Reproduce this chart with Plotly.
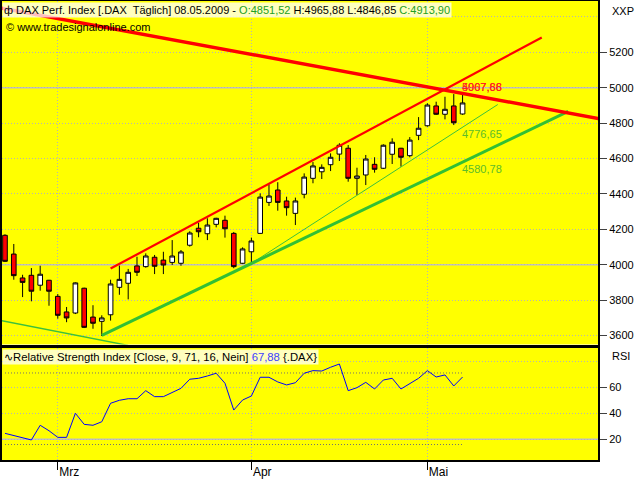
import plotly.graph_objects as go

# ---------------- data ----------------
dates = [
    "2009-02-20", "2009-02-23", "2009-02-24", "2009-02-25", "2009-02-26", "2009-02-27",
    "2009-03-02", "2009-03-03", "2009-03-04", "2009-03-05", "2009-03-06",
    "2009-03-09", "2009-03-10", "2009-03-11", "2009-03-12", "2009-03-13",
    "2009-03-16", "2009-03-17", "2009-03-18", "2009-03-19", "2009-03-20",
    "2009-03-23", "2009-03-24", "2009-03-25", "2009-03-26", "2009-03-27",
    "2009-03-30", "2009-03-31",
    "2009-04-01", "2009-04-02", "2009-04-03",
    "2009-04-06", "2009-04-07", "2009-04-08", "2009-04-09",
    "2009-04-14", "2009-04-15", "2009-04-16", "2009-04-17",
    "2009-04-20", "2009-04-21", "2009-04-22", "2009-04-23", "2009-04-24",
    "2009-04-27", "2009-04-28", "2009-04-29", "2009-04-30",
    "2009-05-04", "2009-05-05", "2009-05-06", "2009-05-07", "2009-05-08",
]
opens = [4166, 4060, 3925, 3940, 3884, 3912, 3821, 3733, 3727, 3867, 3704,
         3680, 3717, 3872, 3895, 3993, 3989, 4042, 4026, 4013, 4008,
         4110, 4206, 4175, 4228, 4251, 4177, 4008,
         4073, 4177, 4352, 4422, 4360, 4290, 4398,
         4488, 4525, 4565, 4625, 4658, 4488, 4507, 4567, 4545,
         4624, 4658, 4616, 4731, 4785, 4897, 4850, 4897, 4851.52]
highs = [4172, 4117, 3943, 3981, 3994, 3914, 3834, 3761, 3900, 3870, 3771,
         3714, 3915, 3995, 3976, 4045, 4064, 4055, 4073, 4139, 4083,
         4189, 4237, 4262, 4265, 4277, 4185, 4098,
         4153, 4403, 4454, 4466, 4384, 4379, 4516,
         4580, 4567, 4629, 4686, 4676, 4548, 4620, 4607, 4680,
         4714, 4660, 4721, 4834, 4912, 4921, 4949, 4964, 4965.88]
lows = [4015, 3915, 3817, 3793, 3853, 3768, 3695, 3675, 3721, 3642, 3638,
        3597, 3684, 3830, 3804, 3936, 3983, 3947, 3947, 3998, 3994,
        4102, 4155, 4139, 4211, 4153, 3980, 4005,
        4011, 4175, 4332, 4305, 4277, 4224, 4375,
        4460, 4484, 4529, 4586, 4469, 4394, 4450, 4520, 4541,
        4569, 4554, 4607, 4704, 4780, 4846, 4821, 4789, 4846.85]
closes = [4019, 3938, 3900, 3850, 3946, 3850, 3714, 3699, 3897, 3646, 3669,
          3699, 3891, 3917, 3957, 3957, 4049, 3991, 3998, 4049, 4072,
          4179, 4186, 4224, 4262, 4203, 3989, 4089,
          4134, 4382, 4388, 4352, 4322, 4360, 4495,
          4558, 4550, 4607, 4675, 4488, 4501, 4597, 4539, 4675,
          4692, 4607, 4704, 4771, 4902, 4850, 4878, 4802, 4913.90]
rsi = [24.6, 22.8, 21.2, 19.5, 30.8, 26.6, 21.5, 21.5, 40.0, 31.5, 30.8,
       33.5, 47.7, 50.0, 51.2, 51.2, 57.4, 52.8, 52.8, 55.8, 59.2,
       66.2, 66.9, 68.7, 70.8, 63.1, 42.5, 50.2,
       53.3, 67.7, 67.7, 64.1, 61.8, 63.5, 70.8,
       72.8, 72.5, 75.4, 77.9, 57.4, 59.7, 63.8, 58.7, 65.6,
       66.9, 58.7, 63.1, 66.9, 72.8, 67.9, 69.5, 61.0, 67.88]
rsi_upper = 71
rsi_lower = 16

# trend lines: (bar index, value) end points
red_down_x, red_down_y = [-1, 68], [5455.5, 4820.7]
red_up_x, red_up_y = [12, 61], [3978, 5284]
green_thick_x, green_thick_y = [11, 64], [3601, 4866]
green_thin_x, green_thin_y = [28, 56], [4007, 4905]
green_low_x, green_low_y = [-1, 14], [3689, 3544]

red_labels = ["5007,66", "4967,88"]
green_labels = [("4776,65", 4776.65), ("4580,78", 4580.78)]

month_names = {"03": "Mrz", "04": "Apr", "05": "Mai"}
price_ticks = [3600, 3800, 4000, 4200, 4400, 4600, 4800, 5000, 5200]
rsi_ticks = [20, 40, 60]

header = ("ф DAX Perf. Index [.DAX  Täglich] 08.05.2009 - "
          "<span style='color:#22a022'>O:4851,52</span> H:4965,88 L:4846,85 "
          "<span style='color:#22a022'>C:4913,90</span>")
rsi_header = ("∿Relative Strength Index [Close, 9, 71, 16, Nein] "
              "<span style='color:#4040ff'>67,88</span> {.DAX}")

# ---------------- figure ----------------
idx = list(range(len(dates)))
month_ticks = [i for i in idx if i > 0 and dates[i][5:7] != dates[i - 1][5:7]]
month_text = [month_names[dates[i][5:7]] for i in month_ticks]

W, H = 640, 480
L, R, T, B = 2, 42, 1, 20
PW, PH = W - L - R, H - T - B


def px(x):
    return (x - L) / PW


def py(y):
    return (H - B - y) / PH


FONT = "Liberation Sans, Arial, sans-serif"
GRID = "#b4b4b4"
DOT = "1px,2px"

fig = go.Figure()

fig.add_trace(go.Candlestick(
    x=idx, open=opens, high=highs, low=lows, close=closes,
    increasing=dict(fillcolor="#ffffff", line=dict(color="#000000", width=1)),
    decreasing=dict(fillcolor="#ff0000", line=dict(color="#000000", width=1)),
    whiskerwidth=0, xaxis="x", yaxis="y", showlegend=False, hoverinfo="skip"))

fig.add_trace(go.Scatter(x=green_low_x, y=green_low_y, mode="lines",
                         line=dict(color="#3cc03c", width=1.5), xaxis="x", yaxis="y", showlegend=False))
fig.add_trace(go.Scatter(x=green_thin_x, y=green_thin_y, mode="lines",
                         line=dict(color="#3cc03c", width=1), xaxis="x", yaxis="y", showlegend=False))
fig.add_trace(go.Scatter(x=green_thick_x, y=green_thick_y, mode="lines",
                         line=dict(color="#33c033", width=3), xaxis="x", yaxis="y", showlegend=False))
fig.add_trace(go.Scatter(x=red_up_x, y=red_up_y, mode="lines",
                         line=dict(color="#ff0000", width=2.2), xaxis="x", yaxis="y", showlegend=False))
fig.add_trace(go.Scatter(x=red_down_x, y=red_down_y, mode="lines",
                         line=dict(color="#ff0000", width=3.5), xaxis="x", yaxis="y", showlegend=False))

# RSI panel
fig.add_trace(go.Scatter(x=[idx[0], idx[-1]], y=[rsi_upper, rsi_upper], mode="lines",
                         line=dict(color="#707070", width=1, dash=DOT), xaxis="x2", yaxis="y2", showlegend=False))
fig.add_trace(go.Scatter(x=[idx[0], idx[-1]], y=[rsi_lower, rsi_lower], mode="lines",
                         line=dict(color="#707070", width=1, dash=DOT), xaxis="x2", yaxis="y2", showlegend=False))
fig.add_trace(go.Scatter(x=idx, y=rsi, mode="lines",
                         line=dict(color="#0000ff", width=1), xaxis="x2", yaxis="y2", showlegend=False))

axis_common = dict(showline=True, mirror=True, linecolor="#000000", linewidth=2,
                   zeroline=False, gridcolor=GRID, griddash=DOT, gridwidth=1, automargin=False)

xr = [-0.34, 67.39]
fig.update_layout(
    width=W, height=H, margin=dict(l=L, r=R, t=T, b=B, pad=0, autoexpand=False),
    paper_bgcolor="#ffffff", plot_bgcolor="#ffff00",
    font=dict(family=FONT, size=11, color="#000000"),
    showlegend=False, boxgap=0.25,
    xaxis=dict(domain=[0, 1], anchor="y", range=xr, tickvals=month_ticks,
               showticklabels=False, ticks="", showgrid=True,
               rangeslider=dict(visible=False), **axis_common),
    yaxis=dict(domain=[py(344.5), 1], anchor="x", side="right", range=[3549, 5490],
               tickvals=price_ticks, ticks="outside", ticklen=7, tickcolor="#404040",
               showgrid=True, minor=dict(tickvals=[5400], showgrid=True, gridcolor=GRID,
                                         griddash=DOT, ticks=""),
               tickfont=dict(size=11), **axis_common),
    xaxis2=dict(domain=[0, 1], anchor="y2", matches="x", range=xr, tickvals=month_ticks,
                ticktext=month_text, ticks="outside", ticklen=8, tickcolor="#000000",
                ticklabelposition="outside right", showgrid=True,
                tickfont=dict(size=12), **axis_common),
    yaxis2=dict(domain=[0, py(348)], anchor="x2", side="right", range=[4.1, 90.2],
                tickvals=rsi_ticks, ticks="outside", ticklen=7, tickcolor="#404040",
                showgrid=True, minor=dict(tickvals=[80], showgrid=True, gridcolor=GRID,
                                          griddash=DOT, ticks=""),
                tickfont=dict(size=11), **axis_common),
)

# solid reference lines (drawn beneath traces)
for yv in [4000, 5000]:
    fig.add_shape(type="line", xref="x domain", x0=0, x1=1, yref="y", y0=yv, y1=yv,
                  line=dict(color="#c0c0c0", width=1.5), layer="below")
fig.add_shape(type="line", xref="x2 domain", x0=0, x1=1, yref="y2", y0=20, y1=20,
              line=dict(color="#c0c0c0", width=1.5), layer="below")

ann = []
ann.append(dict(text=header, x=px(2), y=py(2), xref="paper", yref="paper",
                xanchor="left", yanchor="top", showarrow=False,
                bgcolor="rgba(255,255,255,0.75)", borderpad=1, font=dict(size=11)))
ann.append(dict(text="© www.tradesignalonline.com", x=px(4), y=py(19), xref="paper", yref="paper",
                xanchor="left", yanchor="top", showarrow=False, font=dict(size=11)))
ann.append(dict(text="XXP", x=px(610), y=py(3), xref="paper", yref="paper",
                xanchor="left", yanchor="top", showarrow=False, font=dict(size=11)))
ann.append(dict(text="RSI", x=px(610), y=py(348), xref="paper", yref="paper",
                xanchor="left", yanchor="top", showarrow=False, font=dict(size=11)))
ann.append(dict(text=rsi_header, x=px(2), y=py(348.5), xref="paper", yref="paper",
                xanchor="left", yanchor="top", showarrow=False,
                bgcolor="rgba(255,255,255,0.75)", borderpad=1, font=dict(size=11.3)))
for t in red_labels:
    ann.append(dict(text=t, x=idx[-1], y=red_down_y[0] + (red_down_y[1] - red_down_y[0]) *
                    (idx[-1] - red_down_x[0]) / (red_down_x[1] - red_down_x[0]),
                    xref="x", yref="y", xanchor="left", yanchor="bottom", xshift=-3, yshift=-2,
                    showarrow=False, font=dict(size=11, color="#ff2020")))
for t, v in green_labels:
    ann.append(dict(text=t, x=idx[-1], y=v, xref="x", yref="y", xanchor="left", yanchor="top",
                    xshift=-3, yshift=1, showarrow=False, font=dict(size=11, color="#5cbc2c")))
fig.update_layout(annotations=ann)

fig.write_html("out.html", config={"displayModeBar": False},
               post_script="document.body.style.margin='0';document.body.style.padding='0';")
